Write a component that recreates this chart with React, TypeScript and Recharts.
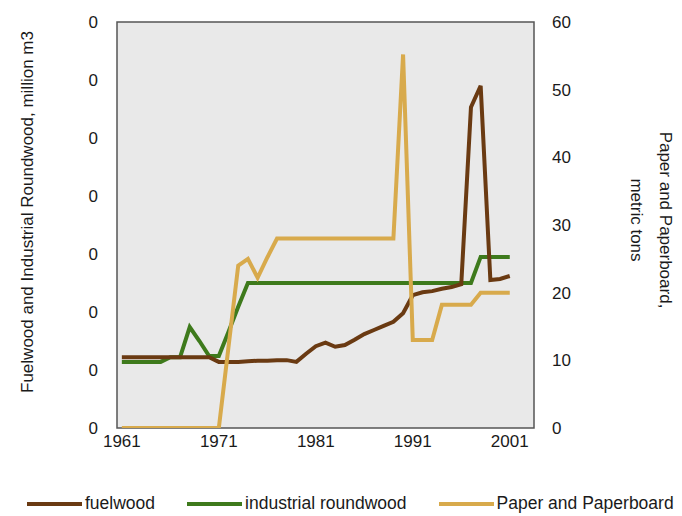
import { LineChart, Line, XAxis, YAxis, ReferenceArea, Label } from 'recharts';

const years = [
  1961, 1962, 1963, 1964, 1965, 1966, 1967, 1968, 1969, 1970,
  1971, 1972, 1973, 1974, 1975, 1976, 1977, 1978, 1979, 1980,
  1981, 1982, 1983, 1984, 1985, 1986, 1987, 1988, 1989, 1990,
  1991, 1992, 1993, 1994, 1995, 1996, 1997, 1998, 1999, 2000, 2001,
];

// million m3 (left axis)
const fuelwood = [
  0.122, 0.122, 0.122, 0.122, 0.122, 0.122, 0.122, 0.122, 0.122, 0.122,
  0.114, 0.114, 0.114, 0.115, 0.116, 0.116, 0.117, 0.117, 0.114, 0.128,
  0.141, 0.147, 0.14, 0.143, 0.152, 0.162, 0.169, 0.176, 0.183, 0.198,
  0.229, 0.234, 0.236, 0.24, 0.243, 0.248, 0.553, 0.59, 0.255, 0.257, 0.262,
];

const industrialRoundwood = [
  0.114, 0.114, 0.114, 0.114, 0.114, 0.122, 0.122, 0.174, 0.15, 0.124,
  0.124, 0.166, 0.209, 0.25, 0.25, 0.25, 0.25, 0.25, 0.25, 0.25,
  0.25, 0.25, 0.25, 0.25, 0.25, 0.25, 0.25, 0.25, 0.25, 0.25,
  0.25, 0.25, 0.25, 0.25, 0.25, 0.25, 0.25, 0.295, 0.295, 0.295, 0.295,
];

// metric tons (right axis)
const paper = [
  0, 0, 0, 0, 0, 0, 0, 0, 0, 0,
  0, 12, 24, 25, 22.2, 25.2, 28, 28, 28, 28,
  28, 28, 28, 28, 28, 28, 28, 28, 28, 55.2,
  13, 13, 13, 18.2, 18.2, 18.2, 18.2, 20, 20, 20, 20,
];

const xTicks = [1961, 1971, 1981, 1991, 2001];
const leftTicks = [0, 0.1, 0.2, 0.3, 0.4, 0.5, 0.6, 0.7];
const rightTicks = [0, 10, 20, 30, 40, 50, 60];

const series = [
  { key: 'industrial', name: 'industrial roundwood', color: '#3e7a1c', axis: 'left' },
  { key: 'fuelwood', name: 'fuelwood', color: '#6a3a12', axis: 'left' },
  { key: 'paper', name: 'Paper and Paperboard', color: '#d8aa4c', axis: 'right' },
];
const legendOrder = ['fuelwood', 'industrial', 'paper'];

const data = years.map((year, i) => ({
  year,
  fuelwood: fuelwood[i],
  industrial: industrialRoundwood[i],
  paper: paper[i],
}));

const FONT = '"Liberation Sans", Arial, sans-serif';
const tickStyle = { fontSize: 17, fill: '#1a1a1a', fontFamily: FONT };

const LeftTitle = ({ viewBox }: any) => {
  const cx = viewBox.x + 27;
  const cy = 212;
  return (
    <text
      x={cx}
      y={cy}
      textAnchor="middle"
      dominantBaseline="central"
      transform={`rotate(-90 ${cx} ${cy})`}
      style={{ fontSize: 17, fontFamily: FONT, fill: '#1a1a1a' }}
    >
      Fuelwood and Industrial Roundwood, million m3
    </text>
  );
};

const RightTitle = ({ viewBox }: any) => {
  const cy = 220;
  const x1 = viewBox.x + 131;
  const x2 = viewBox.x + 102;
  const st = { fontSize: 17, fontFamily: FONT, fill: '#1a1a1a' };
  return (
    <g>
      <text x={x1} y={cy} textAnchor="middle" dominantBaseline="central"
        transform={`rotate(90 ${x1} ${cy})`} style={st}>
        Paper and Paperboard,
      </text>
      <text x={x2} y={cy} textAnchor="middle" dominantBaseline="central"
        transform={`rotate(90 ${x2} ${cy})`} style={st}>
        metric tons
      </text>
    </g>
  );
};

export default function App() {
  return (
    <div style={{ position: 'absolute', left: 0, top: 0, width: 682, height: 516, background: '#fff' }}>
      <LineChart width={682} height={516} data={data} margin={{ top: 22, right: 0, bottom: 0, left: 0 }}>
        <XAxis
          dataKey="year"
          type="number"
          domain={[1960.5, 2003.5]}
          ticks={xTicks}
          height={88}
          axisLine={false}
          tickLine={false}
          tickSize={0}
          tickMargin={7}
          tick={tickStyle}
          allowDataOverflow
        />
        <YAxis
          yAxisId="left"
          domain={[0, 0.7]}
          ticks={leftTicks}
          width={117}
          axisLine={false}
          tickLine={false}
          tickSize={0}
          tickMargin={19}
          tick={tickStyle}
          tickFormatter={(v: number) => String(Math.floor(v))}
          allowDataOverflow
        >
          <Label content={<LeftTitle />} />
        </YAxis>
        <YAxis
          yAxisId="right"
          orientation="right"
          domain={[0, 60]}
          ticks={rightTicks}
          width={148}
          axisLine={false}
          tickLine={false}
          tickSize={0}
          tickMargin={18}
          tick={tickStyle}
          allowDataOverflow
        >
          <Label content={<RightTitle />} />
        </YAxis>
        <ReferenceArea
          yAxisId="left"
          x1={1960.5}
          x2={2003.5}
          y1={0}
          y2={0.7}
          fill="#e9e9e9"
          fillOpacity={1}
          stroke="#555"
          strokeWidth={1.5}
          ifOverflow="visible"
        />
        {series.map((s) => (
          <Line
            key={s.key}
            yAxisId={s.axis}
            dataKey={s.key}
            name={s.name}
            stroke={s.color}
            strokeWidth={4}
            dot={false}
            activeDot={false}
            type="linear"
            isAnimationActive={false}
          />
        ))}
      </LineChart>
      <div
        style={{
          position: 'absolute',
          left: 27,
          top: 493,
          display: 'flex',
          alignItems: 'center',
          gap: 32,
          fontFamily: FONT,
          fontSize: 17.5,
          color: '#1a1a1a',
          whiteSpace: 'nowrap',
        }}
      >
        {legendOrder.map((k) => {
          const s = series.find((x) => x.key === k)!;
          return (
            <div key={k} style={{ display: 'flex', alignItems: 'center' }}>
              <span style={{ display: 'inline-block', width: 55, height: 4, background: s.color, marginRight: 3 }} />
              <span>{s.name}</span>
            </div>
          );
        })}
      </div>
    </div>
  );
}
